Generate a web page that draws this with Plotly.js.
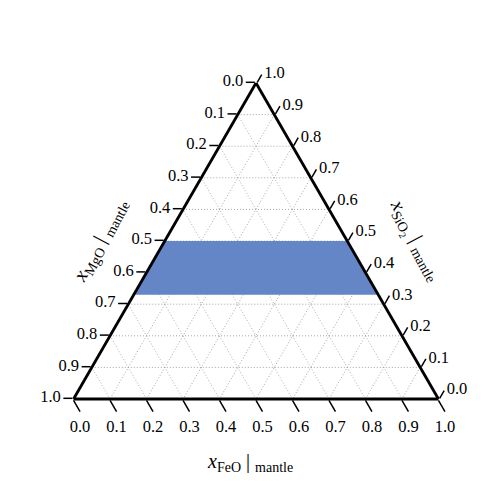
<!DOCTYPE html>
<html>
<head>
<meta charset="utf-8">
<script src="https://cdn.plot.ly/plotly-3.0.1.min.js"></script>
<style>html,body{margin:0;padding:0;background:#fff;}#chart{width:500px;height:500px;}</style>
</head>
<body>
<div id="chart"></div>
<script>
// Sampled mantle compositions fill a band of SiO2 fraction between these bounds
const bandSiO2 = [0.50, 0.50, 0.33, 0.33, 0.50];
const bandMgO  = [0.50, 0.00, 0.00, 0.67, 0.50];
const bandFeO  = [0.00, 0.50, 0.67, 0.00, 0.00];

const tickValues = [0.0, 0.1, 0.2, 0.3, 0.4, 0.5, 0.6, 0.7, 0.8, 0.9, 1.0];
// labels read along each edge (the complementary component on that edge)
const tickLabels = ['1.0', '0.9', '0.8', '0.7', '0.6', '0.5', '0.4', '0.3', '0.2', '0.1', '0.0'];

const labelMgO  = '<i>x</i><sub>MgO</sub> | <sub>mantle</sub>';
const labelSiO2 = '<i>x</i><sub>SiO<sub>2</sub></sub> | <sub>mantle</sub>';
const labelFeO  = '<i>x</i><sub>FeO</sub> | <sub>mantle</sub>';

const serif = 'Liberation Serif, Times New Roman, serif';

function axis(len) {
  return {
    min: 0,
    tickmode: 'array',
    tickvals: tickValues,
    ticktext: tickLabels,
    ticks: 'outside',
    ticklen: len,
    tickwidth: 1.5,
    tickcolor: '#000',
    tickfont: {family: serif, size: 16.5, color: '#000'},
    showline: true,
    linecolor: '#000',
    linewidth: 2.8,
    showgrid: true,
    gridcolor: '#9a9a9a',
    gridwidth: 0.8,
    griddash: '1px,2px',
    title: {text: ''}
  };
}

const trace = {
  type: 'scatterternary',
  mode: 'lines',
  a: bandSiO2,
  b: bandMgO,
  c: bandFeO,
  fill: 'toself',
  fillcolor: 'rgb(100,133,198)',
  line: {width: 0, color: 'rgba(0,0,0,0)'},
  hoverinfo: 'skip',
  showlegend: false
};

const layout = {
  width: 500,
  height: 500,
  margin: {l: 0, r: 0, t: 0, b: 0},
  paper_bgcolor: '#fff',
  showlegend: false,
  font: {family: serif, color: '#000'},
  ternary: {
    sum: 1,
    bgcolor: '#fff',
    domain: {x: [0.147, 0.877], y: [0.202, 0.834]},
    aaxis: axis(9),
    baxis: axis(13),
    caxis: axis(9)
  },
  annotations: [
    {text: labelMgO, xref: 'paper', yref: 'paper', x: 0.2, y: 0.52, xanchor: 'center', yanchor: 'middle',
     showarrow: false, textangle: -62, font: {family: serif, size: 20, color: '#000'}},
    {text: labelSiO2, xref: 'paper', yref: 'paper', x: 0.83, y: 0.52, xanchor: 'center', yanchor: 'middle',
     showarrow: false, textangle: 62, font: {family: serif, size: 20, color: '#000'}},
    {text: labelFeO, xref: 'paper', yref: 'paper', x: 0.5, y: 0.076, xanchor: 'center', yanchor: 'middle',
     showarrow: false, font: {family: serif, size: 20, color: '#000'}}
  ]
};

Plotly.newPlot('chart', [trace], layout, {displayModeBar: false, staticPlot: true});
</script>
</body>
</html>
